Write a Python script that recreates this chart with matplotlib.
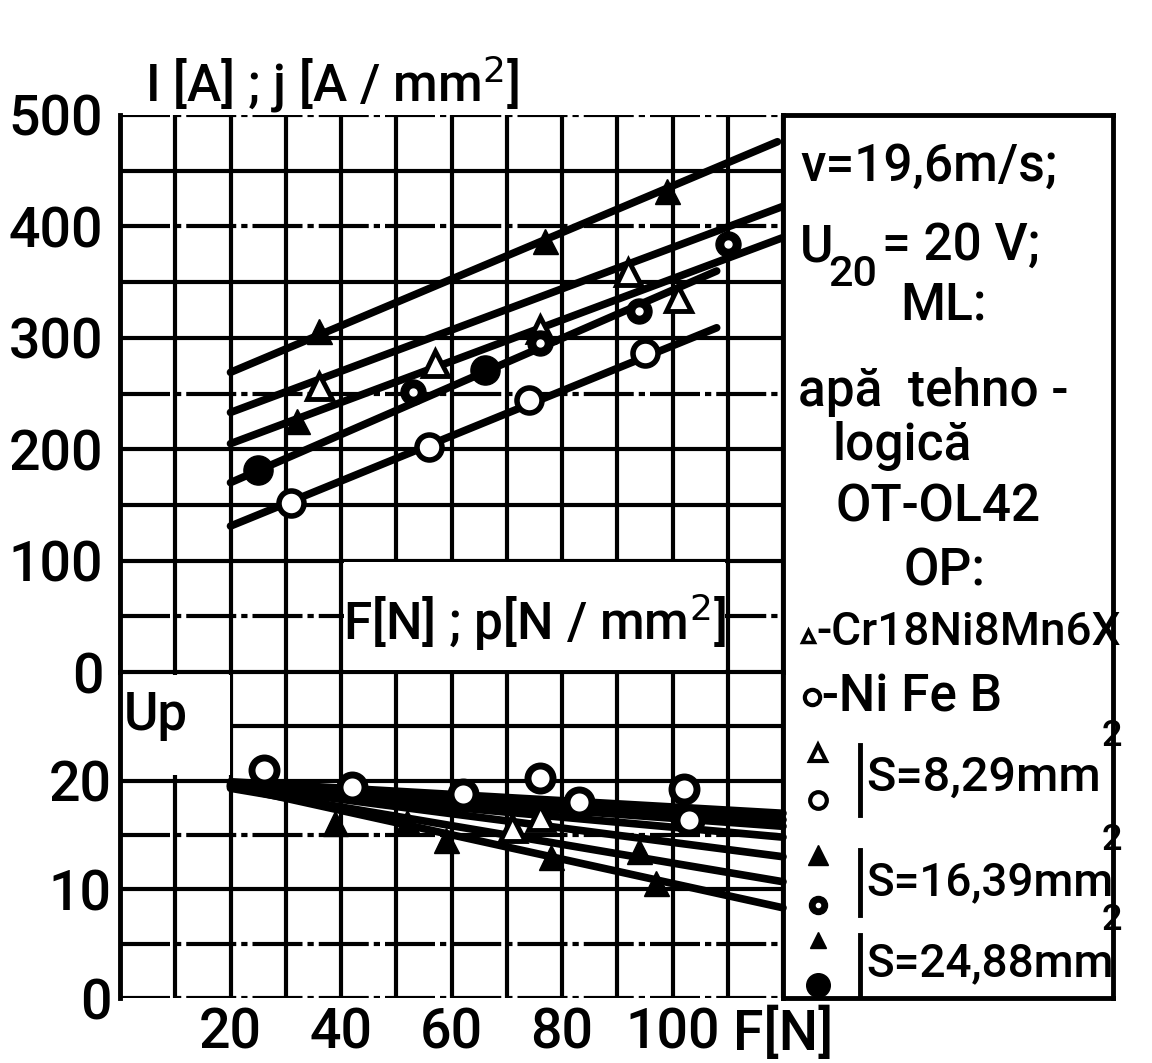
import matplotlib
matplotlib.use("Agg")
import matplotlib.pyplot as plt
from matplotlib.patches import Rectangle

W, H = 1152, 1063
plt.rcParams['font.family'] = ['Roboto', 'DejaVu Sans']
plt.rcParams['font.weight'] = 'medium'

# ---- data -------------------------------------------------------------
F_ticks = [20, 40, 60, 80, 100]
I_ticks = [0, 100, 200, 300, 400, 500]
Up_ticks = [0, 10, 20]

# current I [A] vs. force F [N]
# S = 8,29 mm2 (open markers)
F_I_tri_s1 = [36, 57, 76, 92, 101]
I_tri_s1 = [257, 277, 308, 359, 336]
F_I_circ_s1 = [31, 56, 74, 95]
I_circ_s1 = [152, 202, 244, 286]
# S = 16,39 mm2
F_I_tri_s2 = [32]
I_tri_s2 = [225]
F_I_circ_s2 = [53, 76, 94, 110]
I_circ_s2 = [251, 295, 324, 384]
# S = 24,88 mm2
F_I_tri_s3 = [36, 77, 99]
I_tri_s3 = [306, 387, 432]
F_I_circ_s3 = [25, 66]
I_circ_s3 = [181, 271]

# fitted lines for I (start/end force and current)
I_line_F0 = [20, 20, 20, 20, 20]
I_line_F1 = [119, 120, 120, 108, 108]
I_line_I0 = [269, 233, 205, 170, 131]
I_line_I1 = [476, 418, 390, 360, 309]

# process voltage Up [V] vs. force F [N]
F_U_circ = [26, 42, 62, 76, 83, 102, 103]
U_circ = [21.0, 19.4, 18.8, 20.2, 18.0, 19.2, 16.4]
F_U_tri_open = [71, 76]
U_tri_open = [15.6, 16.7]
F_U_tri = [39, 52, 59, 78, 94, 97]
U_tri = [16.1, 16.2, 14.5, 13.0, 13.5, 10.6]

U_line_F0 = [20, 20, 20, 20, 20, 20, 20]
U_line_F1 = [120, 120, 120, 120, 120, 120, 120]
U_line_U0 = [19.9, 19.7, 19.5, 19.4, 19.6, 19.3, 19.5]
U_line_U1 = [17.0, 16.4, 15.8, 14.8, 13.0, 10.7, 8.3]

# horizontal grid lines drawn dash-dotted
I_dashdot = [500, 400, 250, 50]
U_dashdot = [15, 5, 0]

# ---- figure -----------------------------------------------------------
fig = plt.figure(figsize=(W / 100, H / 100), dpi=100)


def px_box(x0, y0, x1, y1):
    return [x0 / W, 1 - y1 / H, (x1 - x0) / W, (y1 - y0) / H]


ax_up = fig.add_axes(px_box(120, 115, 783, 672))
ax_lo = fig.add_axes(px_box(120, 672, 783, 998))

GRID_LW = 3.0
DASHDOT = (0, (12, 1.2, 1.5, 1.2))
for ax, ymax, ystep, dd in ((ax_up, 500, 50, I_dashdot), (ax_lo, 30, 5, U_dashdot)):
    ax.set_xlim(0, 120)
    ax.set_ylim(0, ymax)
    ax.set_xticks(range(0, 121, 10))
    ax.set_yticks(range(0, ymax + 1, ystep))
    ax.tick_params(length=0, labelleft=False, labelbottom=False)
    ax.grid(True, axis='x', color='black', linewidth=GRID_LW, linestyle='-')
    for yv in range(0, ymax + 1, ystep):
        ax.axhline(yv, color='black', lw=GRID_LW,
                   ls=DASHDOT if yv in dd else '-', zorder=1)
    for s in ax.spines.values():
        s.set_linewidth(GRID_LW + 0.5)
    ax.set_facecolor('none')
ax_up.spines['bottom'].set_visible(False)
ax_up.spines['top'].set_visible(False)
ax_lo.spines['top'].set_visible(False)
ax_lo.spines['bottom'].set_visible(False)
ax_up.set_zorder(2)
ax_lo.set_zorder(2)

TICK_FS = 40
ax_up.set_yticklabels([str(v) if v in I_ticks else '' for v in range(0, 501, 50)])
ax_up.tick_params(labelleft=True, labelsize=TICK_FS, pad=12)
ax_lo.set_yticklabels([str(v) if v in Up_ticks else '' for v in range(0, 31, 5)])
ax_lo.tick_params(labelleft=True, labelsize=TICK_FS, pad=16)
ax_lo.set_xticklabels([str(v) if v in F_ticks else ('F[N]' if v == 120 else '')
                       for v in range(0, 121, 10)])
ax_lo.tick_params(labelbottom=True, labelsize=TICK_FS, pad=6)

LINE_LW = 5.5
MS = 18
for f0, f1, i0, i1 in zip(I_line_F0, I_line_F1, I_line_I0, I_line_I1):
    ax_up.plot([f0, f1], [i0, i1], color='black', lw=LINE_LW,
               solid_capstyle='round', zorder=3)
ax_up.plot(F_I_tri_s1, I_tri_s1, '^', ms=MS, mfc='white', mec='black', mew=3.5, zorder=4)
ax_up.plot(F_I_circ_s1, I_circ_s1, 'o', ms=MS, mfc='white', mec='black', mew=4, zorder=4)
ax_up.plot(F_I_tri_s2, I_tri_s2, '^', ms=MS, color='black', zorder=4)
ax_up.plot(F_I_circ_s2, I_circ_s2, 'o', ms=MS, mfc='black', mec='black', zorder=4)
ax_up.plot(F_I_circ_s2, I_circ_s2, 'o', ms=5, color='white', zorder=5)
ax_up.plot(F_I_tri_s3, I_tri_s3, '^', ms=MS, color='black', zorder=4)
ax_up.plot(F_I_circ_s3, I_circ_s3, 'o', ms=MS + 3, color='black', zorder=4)

for f0, f1, u0, u1 in zip(U_line_F0, U_line_F1, U_line_U0, U_line_U1):
    ax_lo.plot([f0, f1], [u0, u1], color='black', lw=LINE_LW,
               solid_capstyle='round', zorder=3, clip_on=False)
ax_lo.plot(F_U_circ, U_circ, 'o', ms=MS, mfc='white', mec='black', mew=5, zorder=4)
ax_lo.plot(F_U_tri_open, U_tri_open, '^', ms=MS, mfc='white', mec='black', mew=3.5, zorder=4)
ax_lo.plot(F_U_tri, U_tri, '^', ms=MS, color='black', zorder=4)

# blank cells carrying the axis names
ax_up.add_patch(Rectangle((40.6, 1.5), 68.9, 97, facecolor='white',
                          edgecolor='none', zorder=2.5))
ax_up.text(75, 45, 'F[N] ; p[N / mm$^2$]', ha='center', va='center',
           fontsize=37, zorder=6)
ax_lo.add_patch(Rectangle((0.4, 20.5), 19.5, 9.2, facecolor='white',
                          edgecolor='none', zorder=2.5))
ax_lo.text(0.6, 26.0, 'Up', ha='left', va='center', fontsize=38, zorder=6)

fig.text(145 / W, 1 - 84 / H, 'I [A] ; j [A / mm$^2$]', fontsize=37,
         ha='left', va='center')

# side panel with test conditions
panel = fig.add_axes(px_box(783, 115, 1113, 998))
panel.set_xlim(783, 1113)
panel.set_ylim(998, 115)
panel.set_xticks([])
panel.set_yticks([])
for s in panel.spines.values():
    s.set_linewidth(GRID_LW + 0.5)
panel.spines['left'].set_visible(False)
panel.set_facecolor('none')

TXT = dict(fontsize=37, va='center', clip_on=False)
panel.text(800, 167, 'v=19,6m/s;', ha='left', **TXT)
panel.text(800, 248, 'U', ha='left', **TXT)
panel.text(828, 274, '20', ha='left', fontsize=31, va='center', clip_on=False)
panel.text(882, 246, '= 20 V;', ha='left', **TXT)
panel.text(943, 305, 'ML:', ha='center', **TXT)
panel.text(798, 392, 'apă  tehno -', ha='left', **TXT)
panel.text(902, 446, 'logică', ha='center', **TXT)
panel.text(938, 508, 'OT-OL42', ha='center', **TXT)
panel.text(945, 572, 'OP:', ha='center', **TXT)

SMALL = dict(fontsize=33, va='center', clip_on=False)
panel.plot([808], [636], '^', ms=9, mfc='white', mec='black', mew=2.5, clip_on=False)
panel.text(816, 632, '-Cr18Ni8Mn6X', ha='left', **SMALL)
panel.plot([812], [697], 'o', ms=11, mfc='white', mec='black', mew=3, clip_on=False)
panel.text(822, 697, '-Ni Fe B', ha='left', **TXT)

for (yb0, yb1, ytxt, label, fs) in ((745, 815, 778, 'S=8,29mm', 35),
                                      (850, 915, 882, 'S=16,39mm', 33),
                                      (935, 995, 963, 'S=24,88mm', 33)):
    panel.plot([860, 860], [yb0, yb1], color='black', lw=3.5, clip_on=False)
    panel.text(866, ytxt, label, ha='left', va='center', fontsize=fs, clip_on=False)
    panel.text(1102, ytxt - 42, '2', ha='left', va='center', fontsize=26, clip_on=False)

panel.plot([818], [753], '^', ms=11, mfc='white', mec='black', mew=3, clip_on=False)
panel.plot([818], [800], 'o', ms=12, mfc='white', mec='black', mew=3, clip_on=False)
panel.plot([818], [855], '^', ms=14, color='black', clip_on=False)
panel.plot([818], [905], 'o', ms=13, color='black', clip_on=False)
panel.plot([818], [905], 'o', ms=3, color='white', clip_on=False)
panel.plot([818], [940], '^', ms=12, color='black', clip_on=False)
panel.plot([818], [985], 'o', ms=17, color='black', clip_on=False)

fig.savefig('out.png', dpi=100)
